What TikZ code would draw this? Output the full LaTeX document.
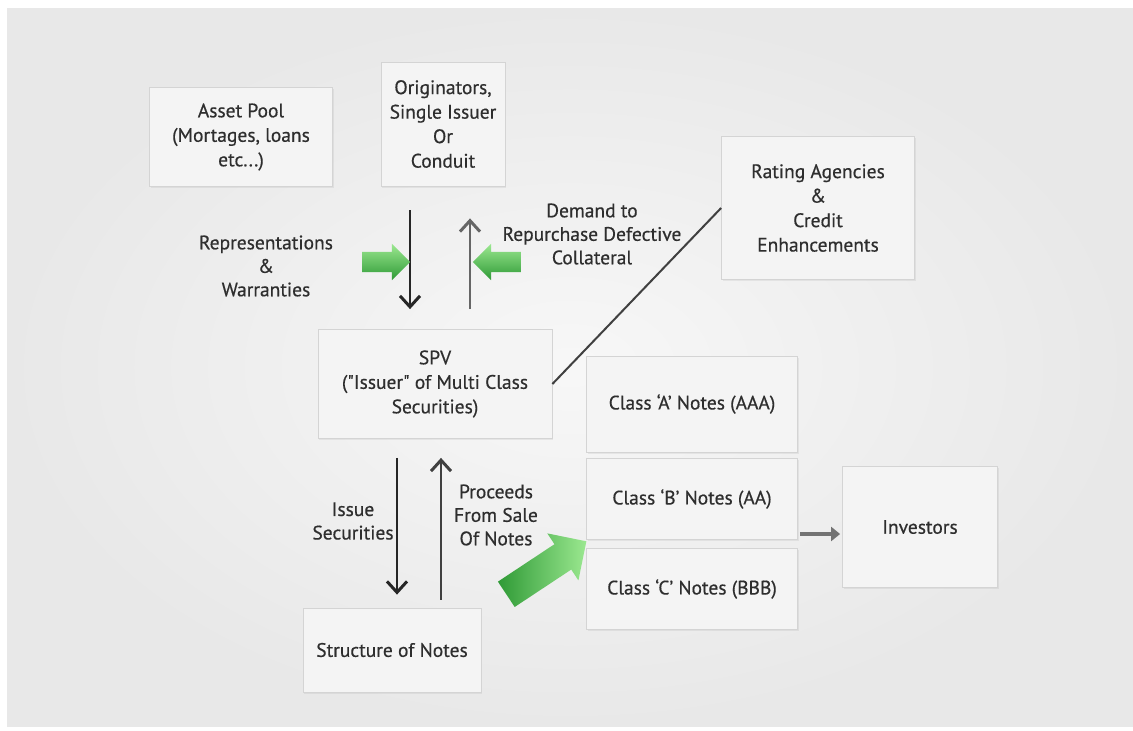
\documentclass[tikz,border=0pt]{standalone}
\usepackage{fontspec}
\setmainfont{PT Sans}
\newfontfamily\diagfont{PT Sans}[FakeBold=0.5]
\usetikzlibrary{arrows.meta,shapes.arrows,shadows}
\definecolor{txt}{HTML}{2E2E2E}
\definecolor{boxfill}{HTML}{F4F4F4}
\definecolor{boxline}{HTML}{D4D4D4}
\definecolor{glight}{HTML}{9BE890}
\definecolor{gdark}{HTML}{2F9A36}
\begin{document}
\begin{tikzpicture}[x=1pt,y=-1pt,
  box/.style={draw=boxline,line width=0.8pt,fill=boxfill,text=txt,align=center,
    font=\diagfont\fontsize{19.5}{24.5}\selectfont,
    drop shadow={opacity=0.12,shadow xshift=1pt,shadow yshift=-1.5pt}},
  lbl/.style={text=txt,align=center,font=\diagfont\fontsize{19.5}{23.5}\selectfont},
  down/.style={line width=2.6pt,draw=black!85,-{Straight Barb[length=11pt,width=20pt,line width=3pt]}},
  up/.style={line width=2.6pt,draw=black!60,-{Straight Barb[length=11pt,width=20pt,line width=3pt]}},
  garrow/.style={single arrow,draw=none,inner sep=10pt,single arrow head extend=8pt,
    minimum height=48pt,top color=glight,bottom color=gdark}]
  \useasboundingbox (0,0) rectangle (1133,731);
  \fill[white] (0,0) rectangle (1133,731);
  \shade[inner color=white!97!black,outer color=white!91!black] (7,8) rectangle (1133,726);
  % boxes
  \node[box,minimum width=183pt,minimum height=99pt] (pool) at (241,137) {Asset Pool\\(Mortages, loans\\etc...)};
  \node[box,minimum width=124pt,minimum height=124pt] (orig) at (443,124) {Originators,\\Single Issuer\\Or\\Conduit};
  \node[box,minimum width=193pt,minimum height=143pt] (rating) at (818,208) {Rating Agencies\\\&\\Credit\\Enhancements};
  \node[box,minimum width=234pt,minimum height=109pt] (spv) at (435,384) {SPV\\("Issuer" of Multi Class\\Securities)};
  \node[box,minimum width=211pt,minimum height=96pt] (classA) at (692,404) {Class ‘A’ Notes (AAA)};
  \node[box,minimum width=211pt,minimum height=81pt] (classB) at (692,499) {Class ‘B’ Notes (AA)};
  \node[box,minimum width=211pt,minimum height=81pt] (classC) at (692,589) {Class ‘C’ Notes (BBB)};
  \node[box,minimum width=155pt,minimum height=121pt] (investors) at (920,527) {Investors};
  \node[box,minimum width=178pt,minimum height=84pt] (notes) at (392,650) {Structure of Notes};
  % labels
  \node[lbl] (repr) at (266,266) {Representations\\\&\\Warranties};
  \node[lbl] (demand) at (592,234) {Demand to\\Repurchase Defective\\Collateral};
  \node[lbl] (issue) at (353,521) {Issue\\Securities};
  \node[lbl] (proceeds) at (496,515) {Proceeds\\From Sale\\Of Notes};
  % flows
  \draw[down,shorten <=24pt,shorten >=20pt] ([xshift=-33pt]orig.south) -- ([xshift=-25pt]spv.north);
  \draw[up,shorten <=20pt,shorten >=32pt] ([xshift=35pt]spv.north) -- ([xshift=27pt]orig.south);
  \draw[down,shorten <=19pt,shorten >=13pt] ([xshift=-38pt]spv.south) -- ([xshift=5pt]notes.north);
  \draw[up,draw=black!75,shorten <=8pt,shorten >=19pt] ([xshift=49pt]notes.north) -- ([xshift=6pt]spv.south);
  \draw[line width=2pt,draw=black!75] (spv.east) -- (rating.west);
  \draw[line width=4.5pt,draw=black!55,-{Triangle[length=9pt,width=14pt]},shorten <=2pt,shorten >=2pt]
    ([yshift=-7pt]investors.west -| classB.east) -- ([yshift=-7pt]investors.west);
  % green pointers
  \node[garrow] (gright) at (381,262) {};
  \node[garrow,shape border rotate=180] (gleft) at (502,262) {};
  \node[garrow,inner sep=15pt,single arrow head extend=13pt,minimum height=96pt,
    rotate=33.5,left color=gdark,right color=glight] (gdiag) at (540,572) {};
\end{tikzpicture}
\end{document}
